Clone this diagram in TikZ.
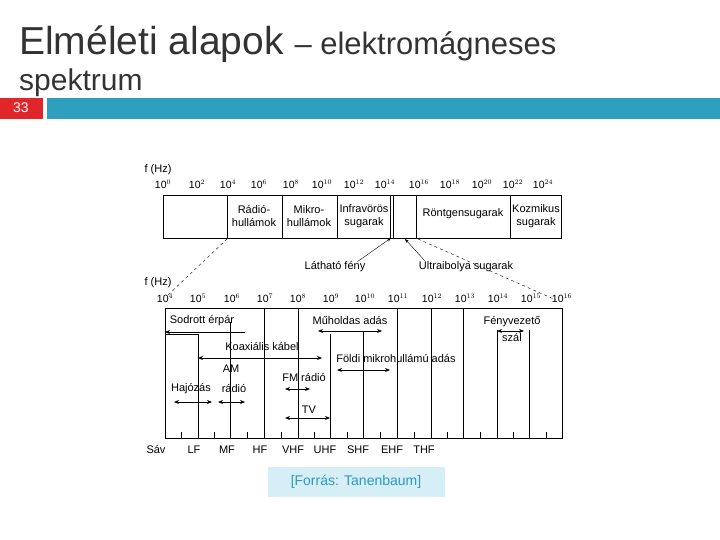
\documentclass[tikz,border=0pt]{standalone}
\usepackage{fontspec}
\setmainfont{Liberation Sans}
\usetikzlibrary{arrows.meta}
\definecolor{barteal}{HTML}{2EA0BE}
\definecolor{numred}{HTML}{E0262B}
\definecolor{srcbg}{HTML}{D6EEF5}
\definecolor{srctext}{HTML}{2A9AC0}
\begin{document}
\begin{tikzpicture}[x=1pt,y=-1pt,
  lbl/.style={inner sep=0pt,font=\fontsize{11}{13}\selectfont},
  expo/.style={inner sep=0pt,font=\fontsize{10.5}{11}\selectfont},
  band/.style={<->,>={Stealth[length=5pt,width=4pt]},thick}]
\useasboundingbox (0,0) rectangle (720,540);
% header
\node[anchor=base west,inner sep=0pt,text=black!80] (title) at (19,55)
  {\fontsize{39}{41}\selectfont Elméleti alapok \fontsize{31}{33}\selectfont – elektromágneses};
\node[anchor=base west,inner sep=0pt,text=black!80] (sub) at (19,91)
  {\fontsize{30}{32}\selectfont spektrum};
\fill[numred] (0,98) rectangle (43,119);
\node[text=white,inner sep=0pt] (num) at (21,108) {\fontsize{14}{15}\selectfont 33};
\fill[barteal] (47,98) rectangle (720,119);

% upper spectrum
\draw (163,195) rectangle (561,238);
\foreach \x in {227,282,337,390,393,416,510} \draw (\x,195) -- (\x,238);
\node[lbl] (fhz1) at (158,170) {f (Hz)};
\foreach \x/\e [count=\i] in {163/0,197/2,228/4,259/6,291/8,322/{10},354/{12},385/{14},419/{16},450/{18},482/{20},513/{22},543/{24}}
  \node[expo] (e\i) at (\x,184) {10$^{\e}$};
\node[lbl,align=center] (radio) at (254,216) {Rádió-\\hullámok};
\node[lbl,align=center] (mikro) at (309,216) {Mikro-\\hullámok};
\node[lbl,align=center] (infra) at (364,216) {Infravörös\\sugarak};
\node[lbl] (rontgen) at (463,214) {Röntgensugarak};
\node[lbl,align=center] (kozm) at (536,216) {Kozmikus\\sugarak};
\node[lbl] (lathato) at (335,267) {Látható fény};
\node[lbl] (uv) at (466,267) {Ultraibolya sugarak};
\coordinate (vis) at (391,238);
\coordinate (uvp) at (405,239);
\draw[-{Stealth[length=4pt]}] (lathato.north east) ++(-8,0) -- (vis);
\draw[-{Stealth[length=4pt]}] (uv.north west) ++(6,-1) -- (uvp);
\coordinate (dl) at (227,239);
\coordinate (dr) at (418,239);
\coordinate (dlb) at (168,295);
\coordinate (drb) at (556,300);
\draw[dashed] (dl) -- (dlb);
\draw[dashed] (dr) -- (drb);

% lower spectrum
\node[lbl] (fhz2) at (158,283) {f (Hz)};
\draw (165,308) -- (562,308) -- (562,438) -- (165,438) -- cycle;
\foreach \x/\e [count=\i] in {165/4,198/5,232/6,265/7,298/8,331/9,365/{10},398/{11},432/{12},465/{13},498/{14},531/{15},562/{16}}
  \node[expo] (f\i) at (\x,298) {10$^{\e}$};
\foreach \x/\t in {198/334,230/322,264/308,298/308,330/334,363/331,397/308,431/308,463/308,497/330,529/330}
  \draw (\x,\t) -- (\x,438);
\foreach \x in {181,214,247,281,314,347,380,414,447,480,513,546} \draw (\x,432) -- (\x,438);
\draw (165,334) -- (198,334);
\node[lbl] (sodrott) at (202,321) {Sodrott érpár};
\coordinate (sa) at (165,332); \coordinate (sb) at (245,332);
\draw[band,<-] (sa) -- (sb);
\node[lbl] (muhold) at (350,321) {Műholdas adás};
\coordinate (ma) at (318,331); \coordinate (mb) at (382,331);
\draw[band] (ma) -- (mb);
\node[lbl] (feny) at (512,322) {Fényvezető};
\node[lbl] (szal) at (512,338) {szál};
\coordinate (fa) at (497,331); \coordinate (fb) at (524,331);
\draw[band] (fa) -- (fb);
\node[lbl] (koax) at (262,347) {Koaxiális kábel};
\coordinate (ka) at (198,358); \coordinate (kb) at (322,358);
\draw[band] (ka) -- (kb);
\node[lbl] (foldi) at (396,359) {Földi mikrohullámú adás};
\coordinate (fma) at (337,370); \coordinate (fmb) at (390,370);
\draw[band] (fma) -- (fmb);
\node[lbl] (am) at (231,369) {AM};
\node[lbl] (amr) at (234,389) {rádió};
\coordinate (aa) at (218,402); \coordinate (ab) at (245,402);
\draw[band] (aa) -- (ab);
\node[lbl] (hajo) at (191,389) {Hajózás};
\coordinate (ha) at (174,402); \coordinate (hb) at (212,402);
\draw[band] (ha) -- (hb);
\node[lbl] (fm) at (304,378) {FM rádió};
\coordinate (fra) at (285,389); \coordinate (frb) at (310,389);
\draw[band] (fra) -- (frb);
\node[lbl] (tv) at (309,410) {TV};
\coordinate (ta) at (285,418); \coordinate (tb) at (330,418);
\draw[band] (ta) -- (tb);
\foreach \x/\b [count=\i] in {156/Sáv,194/LF,227/MF,260/HF,293/VHF,325/UHF,358/SHF,392/EHF,424/THF}
  \node[lbl] (s\i) at (\x,450) {\b};

% source
\node[fill=srcbg,text=srctext,minimum width=177pt,minimum height=30pt,inner sep=0pt] (src) at (356,482)
  {\fontsize{14}{15}\selectfont [Forrás: Tanenbaum]};
\end{tikzpicture}
\end{document}
